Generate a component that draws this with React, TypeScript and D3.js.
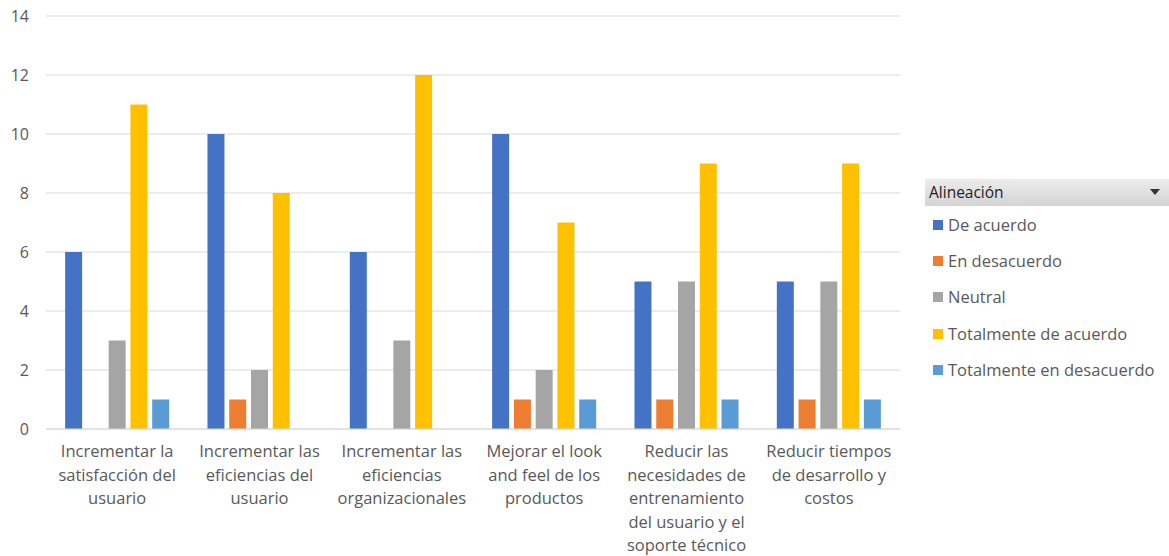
import React from "react";
import * as d3 from "d3";

const categories = [
  ["Incrementar la", "satisfacción del", "usuario"],
  ["Incrementar las", "eficiencias del", "usuario"],
  ["Incrementar las", "eficiencias", "organizacionales"],
  ["Mejorar el look", "and feel de los", "productos"],
  ["Reducir las", "necesidades de", "entrenamiento", "del usuario y el", "soporte técnico"],
  ["Reducir tiempos", "de desarrollo y", "costos"],
];
const seriesNames = ["De acuerdo", "En desacuerdo", "Neutral", "Totalmente de acuerdo", "Totalmente en desacuerdo"];
const deAcuerdo = [6, 10, 6, 10, 5, 5];
const enDesacuerdo = [0, 1, 0, 1, 1, 1];
const neutral = [3, 2, 3, 2, 5, 5];
const totalDeAcuerdo = [11, 8, 12, 7, 9, 9];
const totalEnDesacuerdo = [1, 0, 0, 1, 1, 1];
const yTicks = [0, 2, 4, 6, 8, 10, 12, 14];
const colors = ["#4472C4", "#ED7D31", "#A5A5A5", "#FFC000", "#5B9BD5"];

const series = [deAcuerdo, enDesacuerdo, neutral, totalDeAcuerdo, totalEnDesacuerdo];

export default function App() {
  const W = 1169, H = 556;
  const left = 46, right = 900, top = 16, bottom = 429;
  const y = d3.scaleLinear().domain([0, 14]).range([bottom, top]);
  const x0 = d3.scaleBand().domain(categories.map((_, i) => String(i))).range([left, right]).paddingInner(0).paddingOuter(0);
  const groupW = x0.bandwidth() * 0.731;
  const x1 = d3.scaleBand().domain(seriesNames).range([0, groupW]).paddingInner(0.22).paddingOuter(0);
  const font = "'Open Sans', 'Noto Sans', sans-serif";
  const legendY = [225, 261, 297, 334, 370];
  return (
    <svg width={W} height={H} style={{ position: "absolute", left: 0, top: 0, background: "#fff" }}>
      <defs>
        <linearGradient id="hdr" x1="0" y1="0" x2="0" y2="1">
          <stop offset="0" stopColor="#ececec" />
          <stop offset="1" stopColor="#d4d4d4" />
        </linearGradient>
      </defs>
      {yTicks.map((t) => (
        <g key={t}>
          <line x1={left} x2={right} y1={y(t)} y2={y(t)} stroke="#d9d9d9" strokeWidth={1} />
          <text x={29} y={y(t)} dy="0.35em" textAnchor="end" fontSize={16} fill="#595959" fontFamily={font}>{t}</text>
        </g>
      ))}
      {categories.map((c, ci) => {
        const gx = (x0(String(ci)) as number) + (x0.bandwidth() - groupW) / 2;
        return (
          <g key={ci}>
            {series.map((s, si) =>
              s[ci] > 0 ? (
                <rect key={si} x={gx + (x1(seriesNames[si]) as number)} y={y(s[ci])} width={x1.bandwidth()} height={bottom - y(s[ci])} fill={colors[si]} />
              ) : null
            )}
            {c.map((line, li) => (
              <text key={li} x={(x0(String(ci)) as number) + x0.bandwidth() / 2} y={451.5 + li * 23.5} dy="0.35em" textAnchor="middle" fontSize={16.5} fill="#595959" fontFamily={font}>{line}</text>
            ))}
          </g>
        );
      })}
      <line x1={left} x2={right} y1={bottom} y2={bottom} stroke="#d9d9d9" strokeWidth={1} />
      <rect x={925} y={179} width={244} height={27} fill="url(#hdr)" />
      <text x={929} y={193} dy="0.35em" fontSize={15.5} fill="#222" fontFamily={font}>Alineación</text>
      <path d="M1150,189 L1160,189 L1155,195 Z" fill="#333" />
      {seriesNames.map((n, i) => (
        <g key={n}>
          <rect x={933} y={legendY[i] - 5} width={10} height={10} fill={colors[i]} />
          <text x={948} y={legendY[i]} dy="0.35em" fontSize={16.5} fill="#595959" fontFamily={font}>{n}</text>
        </g>
      ))}
    </svg>
  );
}
